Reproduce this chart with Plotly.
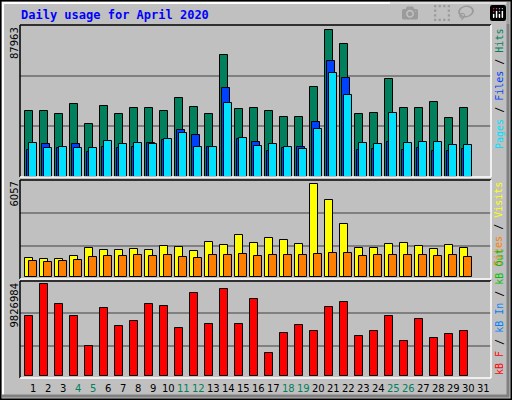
import plotly.graph_objects as go

days = list(range(1, 31))
day_labels = [str(d) for d in range(1, 32)]
weekend = [4, 5, 11, 12, 18, 19, 25, 26]

hits = [39300, 39300, 37500, 43500, 31500, 42300, 37500, 41100, 41100, 39300, 47100, 41700, 37500,
        73000, 40500, 41100, 39300, 35700, 35700, 53400, 87963, 79000, 37500, 38100, 58200, 41100,
        41100, 44700, 35100, 41100]
files = [15900, 19500, 17100, 19500, 14700, 17700, 17100, 17700, 19900, 21900, 27700, 24700, 17700,
         52800, 22500, 20500, 15300, 17100, 17700, 32400, 68900, 58700, 15900, 16500, 20500, 15900,
         17100, 15300, 15300, 16500]
pages = [19900, 16900, 17500, 16900, 16900, 21100, 19300, 19900, 19300, 22300, 25900, 17500, 17500,
         43800, 22900, 18100, 19300, 17500, 16300, 28700, 61700, 48500, 19900, 19300, 37800, 19900,
         20500, 20500, 18700, 18700]
visits = [1202, 1137, 1137, 1334, 1859, 1728, 1728, 1793, 1728, 1990, 1924, 1662, 2252,
          2055, 2711, 2187, 2514, 2383, 2121, 6057, 5007, 3433, 1859, 1859, 2121, 2187,
          1990, 1793, 2055, 1859]
sites = [1006, 940, 1006, 1071, 1268, 1334, 1334, 1399, 1334, 1399, 1268, 1202, 1399,
         1399, 1465, 1334, 1399, 1399, 1399, 1465, 1531, 1531, 1334, 1399, 1399, 1399,
         1399, 1334, 1399, 1268]
kbytes = [6384000, 9826984, 7675000, 6384000, 3156000, 7245000, 5308000, 5846000, 7675000, 7460000,
          5093000, 8858000, 5523000, 9289000, 5523000, 8213000, 2403000, 4556000, 5416000, 4771000,
          7352000, 7890000, 4233000, 4771000, 6384000, 3694000, 6061000, 4018000, 4448000, 4771000]

W, H = 512, 400
PITCH = 15.0
X0 = 1 - 13 / PITCH
XR = [X0, X0 + 471 / PITCH]

def py(p):
    return 1 - p / H

panels = [
    (25, 177, 176.5, 29.5, 87963),
    (180, 279, 276.7, 184.3, 6057),
    (281, 378, 375.7, 284.3, 9826984),
]

fig = go.Figure()
line = dict(color="black", width=1)
BW = 0.5

def add_bar(vals, color, off, ax):
    fig.add_trace(go.Bar(x=[d + off for d in days], y=vals, width=BW, marker=dict(color=color, line=line),
                         xaxis="x" + ax, yaxis="y" + ax, showlegend=False, hoverinfo="skip"))

add_bar(hits, "#00805c", -0.27, "")
add_bar(files, "#0040ff", -0.15, "")
add_bar(pages, "#00e0ff", 0.0, "")
add_bar(visits, "#ffff00", -0.27, "2")
add_bar(sites, "#ff8000", 0.0, "2")
add_bar(kbytes, "#ff0000", -0.27, "3")

layout = dict(width=W, height=H, margin=dict(l=0, r=0, t=0, b=0), paper_bgcolor="#c0c0c0",
              plot_bgcolor="#c0c0c0", barmode="overlay", bargap=0)
shapes = []
for i, (top, bot, base, pmax, vmax) in enumerate(panels):
    k = vmax / (base - pmax)
    lo = -(bot - base) * k
    hi = (base - top) * k
    sfx = "" if i == 0 else str(i + 1)
    g1 = lo + (hi - lo) / 3
    g2 = lo + 2 * (hi - lo) / 3
    layout["xaxis" + sfx] = dict(domain=[20 / W, 491 / W], range=XR, showticklabels=False, showgrid=False,
                                 zeroline=False, anchor="y" + sfx, fixedrange=True)
    layout["yaxis" + sfx] = dict(domain=[py(bot), py(top)], range=[lo, hi], tickvals=[g1, g2],
                                 showticklabels=False, gridcolor="#808080", gridwidth=1.5, zeroline=False,
                                 anchor="x" + sfx, fixedrange=True)
    shapes += [
        dict(type="line", xref="paper", yref="paper", x0=20 / W, x1=491 / W, y0=py(top), y1=py(top), line=dict(color="black", width=1.5)),
        dict(type="line", xref="paper", yref="paper", x0=20 / W, x1=20 / W, y0=py(top), y1=py(bot), line=dict(color="black", width=1.5)),
        dict(type="line", xref="paper", yref="paper", x0=20 / W, x1=491 / W, y0=py(bot), y1=py(bot), line=dict(color="white", width=1.5)),
        dict(type="line", xref="paper", yref="paper", x0=491 / W, x1=491 / W, y0=py(top), y1=py(bot), line=dict(color="white", width=1.5)),
    ]
shapes += [
    dict(type="rect", xref="paper", yref="paper", x0=0.5 / W, x1=1 - 0.5 / W, y0=0.5 / H, y1=1 - 0.5 / H, line=dict(color="black", width=2)),
    dict(type="line", xref="paper", yref="paper", x0=2 / W, x1=509 / W, y0=py(3), y1=py(3), line=dict(color="white", width=2)),
    dict(type="line", xref="paper", yref="paper", x0=3 / W, x1=3 / W, y0=py(2), y1=py(397), line=dict(color="white", width=2)),
    dict(type="line", xref="paper", yref="paper", x0=2 / W, x1=509 / W, y0=py(396), y1=py(396), line=dict(color="#808080", width=3)),
    dict(type="line", xref="paper", yref="paper", x0=508 / W, x1=508 / W, y0=py(2), y1=py(397), line=dict(color="#808080", width=3)),
]
layout["shapes"] = shapes
fig.update_layout(**layout)

MONO = "DejaVu Sans Mono"
ann = []
ann.append(dict(text="<b>Daily usage for April 2020</b>", x=19 / W, y=py(15), xref="paper", yref="paper",
                xanchor="left", yanchor="middle", showarrow=False, font=dict(family=MONO, size=12, color="#0000ff")))
for lab, (top, bot, base, pmax, vmax) in zip(["87963", "6057", "9826984"], panels):
    ann.append(dict(text=lab, x=14 / W, y=py(top), xref="paper", yref="paper", textangle=-90,
                    xanchor="center", yanchor="top", showarrow=False, font=dict(family="DejaVu Sans", size=10, color="black")))
right = [
    ('<span style="color:#00e0ff">Pages</span> / <span style="color:#0040ff">Files</span> / <span style="color:#00805c">Hits</span>', 27, "top"),
    ('<span style="color:#ff8000">Sites</span> / <span style="color:#ffff00">Visits</span>', 180, "top"),
    ('<span style="color:#ff0000">kB F</span> / <span style="color:#0080ff">kB In</span> / <span style="color:#00c000">kB Out</span>', 377, "bottom"),
]
for txt, yp, ya in right:
    ann.append(dict(text=txt, x=499 / W, y=py(yp), xref="paper", yref="paper", textangle=-90,
                    xanchor="center", yanchor=ya, showarrow=False, font=dict(family=MONO, size=10, color="black")))
for i, lab in enumerate(day_labels):
    d = i + 1
    ann.append(dict(text=lab, x=d, y=py(388), xref="x3", yref="paper", xanchor="center", yanchor="middle",
                    showarrow=False, font=dict(family="DejaVu Sans", size=10,
                                               color="#00805c" if d in weekend else "black")))
fig.update_layout(annotations=ann)
fig.write_html("out.html")

with open("out.html", encoding="utf-8") as f:
    html = f.read()
html = html.replace("<head>", "<head><style>html,body{margin:0;padding:0;overflow:hidden}</style>", 1)
with open("out.html", "w", encoding="utf-8") as f:
    f.write(html)
